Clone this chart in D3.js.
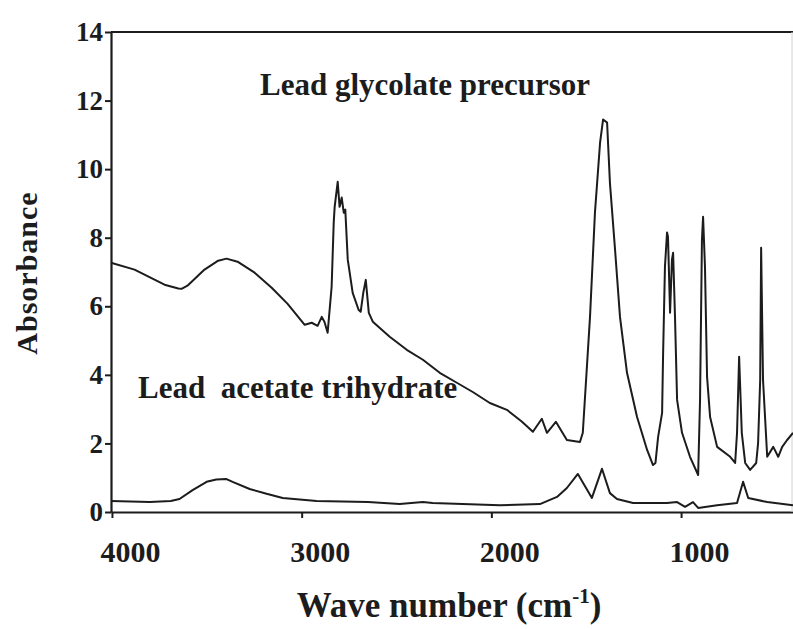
<!DOCTYPE html>
<html>
<head>
<meta charset="utf-8">
<script src="https://cdn.jsdelivr.net/npm/d3@7"></script>
<style>
  html, body { margin: 0; padding: 0; background: #fff; }
  svg { display: block; }
  svg text { font-family: "Liberation Serif", "Times New Roman", serif !important; font-weight: bold; fill: #1c1c1c; }
</style>
</head>
<body>
<div class="container"></div>
<script>
// wavenumbers (cm-1) and absorbance of the lead glycolate precursor
const glycolateWave = [4005, 3881, 3723, 3650, 3633, 3602, 3512, 3440, 3396, 3338, 3248, 3158, 3074, 2984, 2947, 2916, 2894, 2880, 2863, 2842,
  2831, 2826, 2810, 2800, 2789, 2778, 2770, 2757, 2731, 2700, 2689, 2675, 2662, 2646, 2625, 2536, 2446, 2361, 2272, 2182,
  2098, 2008, 1918, 1840, 1781, 1734, 1707, 1660, 1602, 1533, 1518, 1480, 1454, 1427, 1411, 1390, 1375, 1348, 1322, 1285,
  1232, 1179, 1148, 1135, 1121, 1100, 1095, 1085, 1074, 1069, 1058, 1048, 1042, 1032, 1021, 995, 953, 910, 900, 890,
  884, 874, 863, 847, 810, 741, 715, 705, 694, 680, 662, 636, 604, 594, 583, 578, 568, 546, 514, 488,
  467, 441, 410];
const glycolateAbs = [7.27, 7.07, 6.63, 6.52, 6.51, 6.60, 7.07, 7.33, 7.39, 7.30, 6.98, 6.54, 6.07, 5.46, 5.52, 5.43, 5.69, 5.55, 5.23, 6.57,
  8.44, 8.90, 9.63, 8.90, 9.17, 8.73, 8.82, 7.36, 6.39, 5.90, 5.84, 6.40, 6.77, 5.81, 5.55, 5.11, 4.73, 4.44, 4.06, 3.77,
  3.50, 3.18, 2.98, 2.64, 2.34, 2.72, 2.31, 2.63, 2.10, 2.04, 2.31, 5.69, 8.73, 10.77, 11.45, 11.36, 9.60, 7.65, 5.69, 4.06,
  2.77, 1.81, 1.37, 1.43, 2.19, 2.89, 4.53, 7.15, 8.15, 8.03, 5.81, 7.36, 7.56, 5.69, 3.27, 2.31, 1.61, 1.08, 3.27, 7.94,
  8.61, 7.15, 3.94, 2.77, 1.90, 1.61, 1.43, 2.31, 4.53, 2.31, 1.43, 1.23, 1.43, 2.01, 3.85, 7.71, 3.85, 1.61, 1.90, 1.61,
  1.90, 2.10, 2.31];

// wavenumbers and absorbance of lead acetate trihydrate
const acetateWave = [4005, 3800, 3690, 3644, 3575, 3501, 3450, 3396, 3364, 3274, 3185, 3100, 2921, 2650, 2483, 2361, 2310, 1955, 1744, 1654,
  1602, 1544, 1470, 1417, 1375, 1338, 1253, 1074, 1021, 979, 937, 910, 810, 705, 673, 646, 546, 410];
const acetateAbs = [0.32, 0.29, 0.32, 0.38, 0.64, 0.88, 0.95, 0.96, 0.88, 0.67, 0.53, 0.41, 0.32, 0.29, 0.23, 0.29, 0.26, 0.20, 0.23, 0.44,
  0.70, 1.11, 0.41, 1.26, 0.55, 0.38, 0.26, 0.26, 0.29, 0.15, 0.29, 0.12, 0.20, 0.26, 0.88, 0.41, 0.29, 0.20];

// tick values
const xTicks = [4000, 3000, 2000, 1000];
const yTicks = [0, 2, 4, 6, 8, 10, 12, 14];

const w = 793;
const h = 629;
const serif = '"Liberation Serif", "Times New Roman", serif';

const svg = d3.select(".container")
    .append("svg")
    .attr("width", w)
    .attr("height", h);

// wavenumber runs right to left, as usual for IR spectra
const xScale = d3.scaleLinear()
    .domain([4005, 410])
    .range([111, 793]);

const yScale = d3.scaleLinear()
    .domain([0, 14])
    .range([512, 32]);

const ink = "#1c1c1c";

/* axes */

const xAxis = d3.axisBottom(xScale)
    .tickValues(xTicks)
    .tickSize(6)
    .tickSizeOuter(0)
    .tickFormat(d3.format("d"));

const gx = svg.append("g")
    .attr("transform", `translate(0, ${yScale(0)})`)
    .call(xAxis);

// labels sit a little to the right of their tick in the original
gx.selectAll("text")
    .attr("y", 50)
    .attr("dy", 0)
    .attr("dx", 18)
    .style("font-size", "30px");

const yAxis = d3.axisLeft(yScale)
    .tickValues(yTicks)
    .tickSize(6)
    .tickSizeOuter(0);

const gy = svg.append("g")
    .attr("transform", `translate(${xScale(4005)}, 0)`)
    .call(yAxis);

gy.selectAll("text")
    .attr("x", -8)
    .style("font-size", "27px");

[gx, gy].forEach(g => {
    g.attr("font-family", serif);
    g.select(".domain").attr("stroke", ink).attr("stroke-width", 2.2);
    g.selectAll(".tick line").attr("stroke", ink).attr("stroke-width", 2);
    g.selectAll("text").attr("fill", ink).style("font-family", serif).style("font-weight", "bold");
});

// top border of the frame and a faint right edge
svg.append("line")
    .attr("x1", xScale(4005)).attr("x2", xScale(410))
    .attr("y1", yScale(14)).attr("y2", yScale(14))
    .attr("stroke", ink).attr("stroke-width", 2.2);

svg.append("line")
    .attr("x1", 792).attr("x2", 792)
    .attr("y1", yScale(14)).attr("y2", yScale(0))
    .attr("stroke", "#d0d0d0").attr("stroke-width", 1);

/* spectra */

const line = d3.line()
    .x(d => xScale(d[0]))
    .y(d => yScale(d[1]));

const series = [
    d3.zip(glycolateWave, glycolateAbs),
    d3.zip(acetateWave, acetateAbs)
];

svg.selectAll("path.spectrum")
    .data(series)
    .enter()
    .append("path")
    .attr("class", "spectrum")
    .attr("d", line)
    .attr("fill", "none")
    .attr("stroke", ink)
    .attr("stroke-width", 2)
    .attr("stroke-linejoin", "round");

/* labels */

svg.append("text")
    .attr("x", 260)
    .attr("y", 95)
    .style("font-size", "31px")
    .text("Lead glycolate precursor");

svg.append("text")
    .attr("x", 138)
    .attr("y", 398)
    .style("font-size", "31px")
    .style("white-space", "pre")
    .text("Lead  acetate trihydrate");

// axis titles
const xTitle = svg.append("text")
    .attr("x", 449)
    .attr("y", 617)
    .attr("text-anchor", "middle")
    .style("font-size", "35px");
xTitle.append("tspan").text("Wave number (cm");
xTitle.append("tspan").attr("dy", -14).style("font-size", "21px").text("-1");
xTitle.append("tspan").attr("dy", 14).text(")");

svg.append("text")
    .attr("transform", "translate(37, 273) rotate(-90)")
    .attr("text-anchor", "middle")
    .style("font-size", "30px")
    .style("letter-spacing", "1px")
    .text("Absorbance");
</script>
</body>
</html>
